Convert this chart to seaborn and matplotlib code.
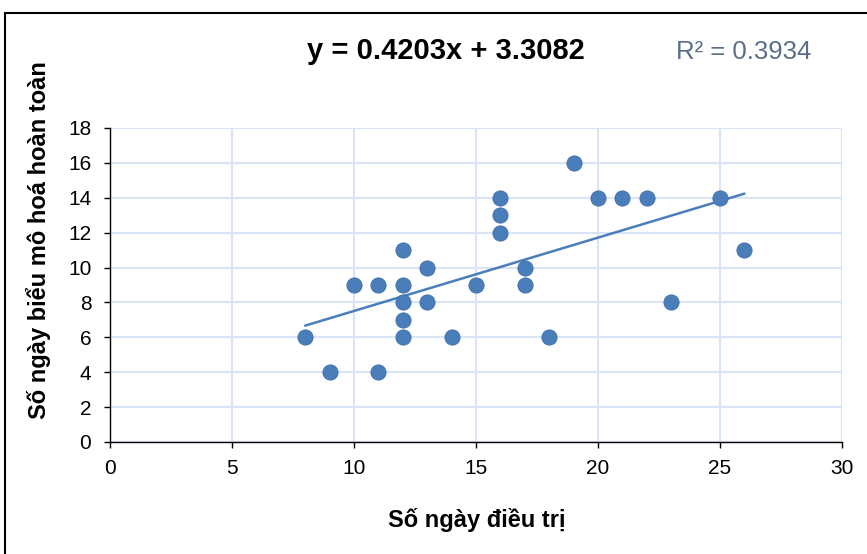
import matplotlib
matplotlib.use("Agg")
import matplotlib.pyplot as plt
import matplotlib.patches as mpatches
import numpy as np
import pandas as pd
import seaborn as sns

# treatment days vs days to complete epithelialisation
days_treat = [8, 9, 10, 11, 11, 12, 12, 12, 12, 12, 13, 13, 14, 15, 16, 16, 16,
              17, 17, 18, 19, 20, 21, 22, 23, 25, 26]
days_epi = [6, 4, 9, 9, 4, 11, 9, 8, 7, 6, 10, 8, 6, 9, 14, 13, 12,
            10, 9, 6, 16, 14, 14, 14, 8, 14, 11]
slope, intercept = 0.4203, 3.3082
r2 = 0.3934
x_ticks = [0, 5, 10, 15, 20, 25, 30]
y_ticks = [0, 2, 4, 6, 8, 10, 12, 14, 16, 18]

sns.set_theme(style="white")
plt.rcParams["font.family"] = ["Liberation Sans", "DejaVu Sans"]
plt.rcParams["text.color"] = "black"

df = pd.DataFrame({"x": days_treat, "y": days_epi})
xs = np.array([min(days_treat), max(days_treat)])
trend = pd.DataFrame({"x": xs, "y": slope * xs + intercept})

fig = plt.figure(figsize=(8.67, 5.54), dpi=100)
ax = fig.add_axes([0.1269, 0.2022, 0.8443, 0.5668])

blue = "#4A7EBB"
sns.lineplot(data=trend, x="x", y="y", ax=ax, color=blue, lw=1.8, zorder=3)
sns.scatterplot(data=df, x="x", y="y", ax=ax, s=120, color=blue,
                edgecolor="#3F6FA8", linewidth=0.6, zorder=4)

ax.set_xlim(0, 30)
ax.set_ylim(0, 18)
ax.set_xticks(x_ticks)
ax.set_yticks(y_ticks)
ax.grid(True, color="#D9E4F5", lw=1.5)
ax.set_axisbelow(True)
for side in ("top", "right"):
    ax.spines[side].set_visible(False)
for side in ("left", "bottom"):
    ax.spines[side].set_color("black")
    ax.spines[side].set_linewidth(1.0)
ax.tick_params(axis="both", labelsize=15, direction="out", length=4.5,
               width=1, color="black", labelcolor="black", bottom=True, left=True)
ax.tick_params(axis="x", pad=8)
ax.tick_params(axis="y", pad=9)
ax.set_xlabel("")
ax.set_ylabel("")

fig.text(0.550, 0.061, "Số ngày điều trị", fontsize=17, fontweight="bold",
         ha="center", va="center")
fig.text(0.044, 0.567, "Số ngày biểu mô hoá hoàn toàn", fontsize=17,
         fontweight="bold", rotation=90, ha="center", va="center")

fig.text(0.514, 0.908, f"y = {slope}x + {intercept}", fontsize=21,
         fontweight="bold", ha="center", va="center")
fig.text(0.858, 0.906, f"R² = {r2}", fontsize=18.5, color="#5A6E8A",
         ha="center", va="center")

fig.patches.append(mpatches.Rectangle((0.006, -0.1), 1.2, 1.0765, fill=False,
                                      edgecolor="black", lw=1.5,
                                      transform=fig.transFigure, figure=fig))

fig.savefig("out.png", dpi=100)
